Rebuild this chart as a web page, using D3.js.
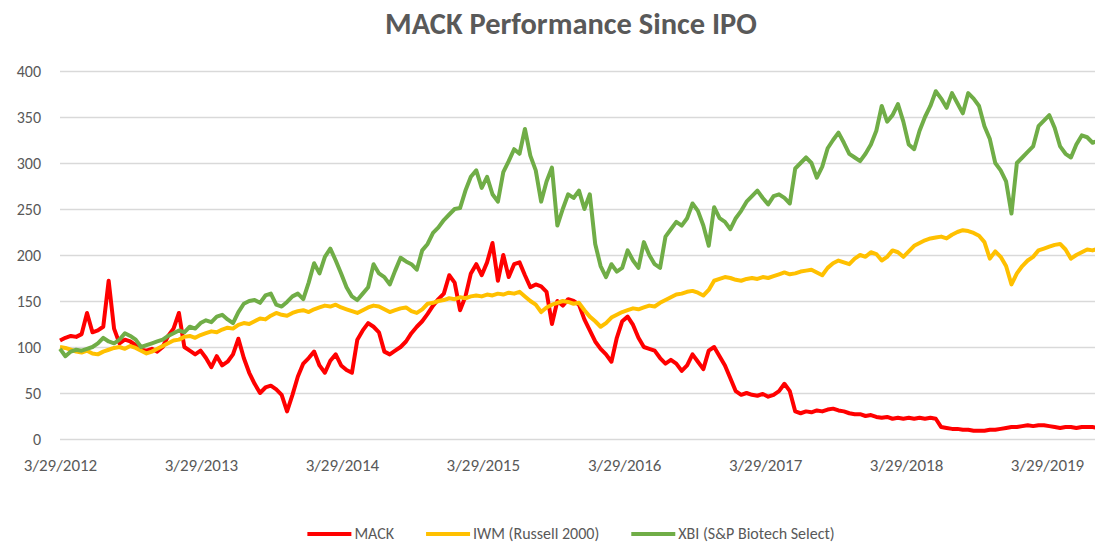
<!DOCTYPE html>
<html>
<head>
<meta charset="utf-8">
<script src="https://cdn.jsdelivr.net/npm/d3@7"></script>
<style>
  html, body { margin: 0; padding: 0; background: #fff; overflow: hidden; }
  text { font-family: Carlito, Calibri, Lato, sans-serif; fill: #595959; }
</style>
</head>
<body>
<div id="chart"></div>
<script>
// one value every two weeks, starting on the IPO day
var startDate = "2012-03-29";
var stepDays = 14;

var mack = [107,110,112,111,114,137,116,118,122,172,120,104,108,106,102,97,96,98,95,100,
  112,120,137,100,96,92,96,88,78,90,80,84,92,109,88,72,60,50,56,58,
  54,48,30,48,68,82,88,95,80,72,85,92,80,75,72,108,118,126,122,116,
  95,92,96,100,106,115,122,128,136,145,152,158,178,170,140,155,180,190,178,192,
  213,172,200,176,190,192,178,165,168,166,160,125,150,145,152,150,146,130,118,106,
  98,92,84,110,128,133,124,110,100,98,96,88,82,86,82,74,80,92,84,76,
  96,100,90,80,66,52,48,50,48,47,49,46,48,52,60,52,30,28,30,29,
  31,30,32,33,31,30,28,27,27,25,26,24,23,24,22,23,22,23,22,23,
  22,23,22,13,12,11,11,10,10,9,9,9,10,10,11,12,13,13,14,15,
  14,15,15,14,13,12,13,13,12,13,13,13,12];

var iwm = [100,99,97,95,94,96,93,92,95,97,99,100,98,101,99,96,93,95,98,101,
  104,107,108,111,112,110,113,115,117,116,119,121,120,124,126,125,128,131,130,134,
  137,135,134,137,139,140,138,141,143,145,144,146,143,141,139,137,140,143,145,144,
  141,138,140,142,143,139,137,141,147,148,150,151,153,152,154,153,155,156,155,157,
  156,158,157,159,158,160,155,150,146,138,143,146,148,150,149,147,148,140,133,128,
  122,126,132,135,138,140,142,141,143,145,144,148,151,154,157,158,160,161,159,156,
  162,172,174,176,175,173,172,174,175,174,176,175,177,179,181,179,180,182,183,184,
  181,178,186,191,194,192,190,196,200,198,203,201,194,198,205,203,198,204,210,213,
  216,218,219,220,218,222,225,227,226,224,221,214,196,204,198,188,168,180,188,194,
  198,205,207,209,211,212,206,196,200,203,206,205,207];

var xbi = [98,90,95,97,96,98,100,104,110,106,104,108,115,112,108,100,102,104,106,108,
  112,115,118,116,122,120,126,129,127,133,135,130,126,138,147,150,151,148,156,158,
  146,144,149,155,158,152,170,191,180,198,207,194,180,165,155,151,158,165,190,180,
  176,168,183,197,193,190,184,205,212,224,230,238,244,250,251,270,285,292,273,285,
  266,258,290,302,315,310,337,308,292,258,280,295,232,250,266,262,270,250,266,212,
  188,176,190,182,186,205,194,186,214,200,190,186,220,228,236,232,240,256,248,232,
  210,252,240,236,228,240,248,258,264,270,262,255,264,266,262,256,294,300,306,300,
  284,296,316,325,333,322,310,306,302,310,320,335,362,345,352,364,345,320,315,335,
  350,362,378,370,360,376,365,354,376,370,362,340,326,300,292,280,245,300,306,312,
  318,340,346,352,338,318,310,306,320,330,328,322,324];

var seriesNames = ["MACK", "IWM (Russell 2000)", "XBI (S&P Biotech Select)"];
var seriesColors = ["#FF0000", "#FFC000", "#70AD47"];
var yTicks = [0, 50, 100, 150, 200, 250, 300, 350, 400];
var xTickLabels = ["3/29/2012", "3/29/2013", "3/29/2014", "3/29/2015",
  "3/29/2016", "3/29/2017", "3/29/2018", "3/29/2019"];
var chartTitle = "MACK Performance Since IPO";

var vWidth = 1095, vHeight = 542;
var plotLeft = 60, plotRight = 1095, plotTop = 71, plotBottom = 439;

var parseIso = d3.timeParse("%Y-%m-%d");
var parseLabel = d3.timeParse("%m/%d/%Y");
var firstDay = parseIso(startDate);
var dates = mack.map(function (d, i) { return d3.timeDay.offset(firstDay, i * stepDays); });
var tickDates = xTickLabels.map(parseLabel);

var svg = d3.select("#chart")
  .append("svg")
  .attr("width", vWidth)
  .attr("height", vHeight);

var x = d3.scaleTime()
  .domain([tickDates[0], tickDates[tickDates.length - 1]])
  .range([60, 1047]);

var y = d3.scaleLinear()
  .domain([0, 400])
  .range([plotBottom, plotTop]);

// gridlines
svg.append("g")
  .attr("transform", "translate(" + plotLeft + ",0)")
  .call(d3.axisRight(y).tickValues(yTicks).tickSize(plotRight - plotLeft).tickFormat(""))
  .call(function (g) {
    g.select(".domain").remove();
    g.selectAll("line").attr("stroke", "#D9D9D9").attr("stroke-width", 1.3);
  });

// y labels
svg.append("g")
  .attr("transform", "translate(41,0)")
  .call(d3.axisLeft(y).tickValues(yTicks).tickSize(0).tickPadding(0))
  .call(function (g) {
    g.select(".domain").remove();
    g.selectAll("text").style("font-size", "16px").attr("fill", "#595959");
  });

// x labels
svg.append("g")
  .attr("transform", "translate(0," + plotBottom + ")")
  .call(d3.axisBottom(x).tickValues(tickDates).tickSize(0).tickPadding(20)
    .tickFormat(function (d, i) { return xTickLabels[i]; }))
  .call(function (g) {
    g.select(".domain").remove();
    g.selectAll("text").style("font-size", "17px").attr("fill", "#595959");
  });

// lines
var line = d3.line()
  .x(function (d, i) { return x(dates[i]); })
  .y(function (d) { return y(d); });

[mack, iwm, xbi].forEach(function (vals, k) {
  svg.append("path")
    .datum(vals)
    .attr("fill", "none")
    .attr("stroke", seriesColors[k])
    .attr("stroke-width", 4)
    .attr("stroke-linejoin", "round")
    .attr("d", line);
});

// title
var title = svg.append("text")
  .attr("x", 571)
  .attr("y", 34)
  .attr("text-anchor", "middle")
  .style("font-size", "24px")
  .style("font-weight", "bold")
  .text(chartTitle);
var tw = title.node().getComputedTextLength();
title.style("font-size", (24 * 372 / tw) + "px");

// legend
var legend = svg.append("g");
var lx = 0;
seriesNames.forEach(function (name, k) {
  var item = legend.append("g").attr("transform", "translate(" + lx + ",0)");
  item.append("line")
    .attr("x1", 0).attr("x2", 44)
    .attr("y1", 534).attr("y2", 534)
    .attr("stroke", seriesColors[k])
    .attr("stroke-width", 4);
  var t = item.append("text")
    .attr("x", 47).attr("y", 539)
    .style("font-size", "16px")
    .text(name);
  lx += 47 + t.node().getComputedTextLength() + 32;
});
var legendWidth = lx - 32;
legend.attr("transform", "translate(" + (571 - legendWidth / 2) + ",0)");
</script>
</body>
</html>
